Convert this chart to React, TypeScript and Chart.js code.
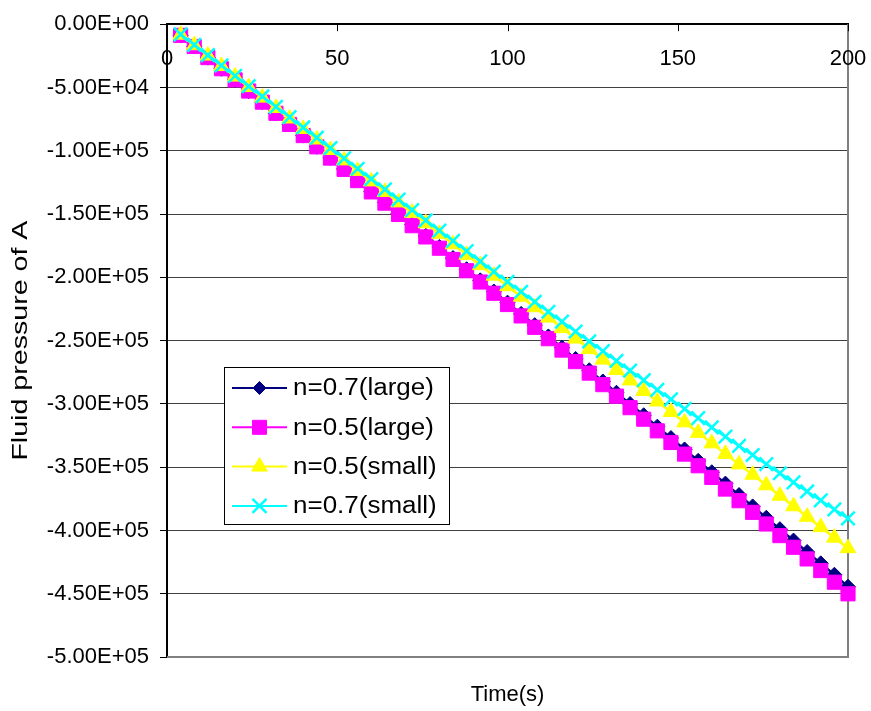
import React, { useEffect, useRef } from "react";
import { Chart, registerables } from "chart.js";

Chart.register(...registerables);

const times = [
  4, 8, 12, 16, 20, 24, 28, 32, 36, 40, 44, 48, 52, 56, 60, 64, 68, 72, 76, 80, 84, 88, 92, 96, 100,
  104, 108, 112, 116, 120, 124, 128, 132, 136, 140, 144, 148, 152, 156, 160, 164, 168, 172, 176, 180,
  184, 188, 192, 196, 200,
];

const n07Large = [
  -8800, -17600, -26400, -35200, -44000, -52800, -61600, -70400, -79200, -88000, -96800, -105600,
  -114400, -123200, -132000, -140800, -149600, -158400, -167200, -176000, -184800, -193600, -202400,
  -211200, -220000, -228900, -237800, -246700, -255600, -264500, -273400, -282300, -291200, -300100,
  -309000, -318000, -327000, -336000, -345000, -354000, -363000, -372000, -381000, -390000, -399000,
  -408000, -417000, -426000, -435000, -444500,
];

const n05Large = [
  -8800, -17600, -26400, -35200, -44000, -52800, -61600, -70400, -79200, -88000, -96900, -105800,
  -114700, -123600, -132500, -141400, -150300, -159200, -168100, -177000, -185900, -194800, -203700,
  -212600, -221500, -230500, -239500, -248500, -257500, -266600, -275700, -284800, -293900, -303000,
  -312100, -321300, -330500, -339700, -348900, -358100, -367300, -376500, -385700, -394900, -404100,
  -413300, -422500, -431700, -440900, -450100,
];

const n05Small = [
  -8300, -16600, -24800, -33100, -41400, -49700, -58000, -66200, -74500, -82800, -91100, -99400,
  -107600, -115900, -124200, -132500, -140800, -149000, -157300, -165600, -173900, -182200, -190400,
  -198700, -207000, -215300, -223600, -231800, -240100, -248400, -256700, -265000, -273200, -281500,
  -289800, -298100, -306400, -314600, -322900, -331200, -339500, -347800, -356000, -364300, -372600,
  -380900, -389200, -397400, -405700, -414000,
];

const n07Small = [
  -8100, -16300, -24500, -32600, -40800, -49000, -57100, -65300, -73400, -81600, -89700, -97900,
  -106000, -114200, -122300, -130500, -138600, -146800, -154900, -163100, -171200, -179300, -187400,
  -195500, -203500, -211400, -219300, -227200, -235000, -242800, -250600, -258300, -266000, -273700,
  -281300, -288900, -296400, -303900, -311300, -318600, -325900, -333200, -340400, -347600, -354800,
  -362000, -369200, -376300, -383400, -390500,
];

const seriesLabels = ["n=0.7(large)", "n=0.5(large)", "n=0.5(small)", "n=0.7(small)"];
const seriesColors = ["#000080", "#FF00FF", "#FFFF00", "#00FFFF"];
const seriesMarkers = ["rectRot", "rect", "triangle", "crossRot"];

const xTickValues = [0, 50, 100, 150, 200];
const xMin = 0;
const xMax = 200;
const yMin = -500000;
const yMax = 0;
const yStep = 50000;
const xTitle = "Time(s)";
const yTitle = "Fluid pressure of A";

const FONT = '"Liberation Sans", Arial, Helvetica, sans-serif';

function sci(v: number): string {
  if (v === 0) return "0.00E+00";
  const s = v.toExponential(2);
  const [m, e] = s.split("e");
  const sign = e[0] === "-" ? "-" : "+";
  const d = e.replace(/^[+-]/, "").padStart(2, "0");
  return m + "E" + sign + d;
}

function drawMarker(ctx: CanvasRenderingContext2D, kind: string, x: number, y: number, color: string) {
  ctx.save();
  ctx.fillStyle = color;
  ctx.strokeStyle = color;
  ctx.lineWidth = 1;
  ctx.beginPath();
  if (kind === "rectRot") {
    const r = 6.5;
    ctx.moveTo(x - r, y);
    ctx.lineTo(x, y - r);
    ctx.lineTo(x + r, y);
    ctx.lineTo(x, y + r);
    ctx.closePath();
    ctx.fill();
    ctx.stroke();
  } else if (kind === "rect") {
    const h = 7;
    ctx.rect(x - h, y - h, 2 * h, 2 * h);
    ctx.fill();
    ctx.stroke();
  } else if (kind === "triangle") {
    const r = 9;
    ctx.moveTo(x, y - r);
    ctx.lineTo(x + 0.866 * r, y + 0.5 * r);
    ctx.lineTo(x - 0.866 * r, y + 0.5 * r);
    ctx.closePath();
    ctx.fill();
    ctx.stroke();
  } else {
    const h = 7;
    ctx.lineWidth = 2.5;
    ctx.moveTo(x - h, y - h);
    ctx.lineTo(x + h, y + h);
    ctx.moveTo(x + h, y - h);
    ctx.lineTo(x - h, y + h);
    ctx.stroke();
  }
  ctx.restore();
}

const decorPlugin = {
  id: "decor",
  beforeDatasetsDraw(chart: any) {
    const { ctx, chartArea } = chart;
    const { left, top, right, bottom } = chartArea;
    ctx.save();
    ctx.strokeStyle = "#808080";
    ctx.lineWidth = 2;
    ctx.beginPath();
    ctx.moveTo(left, bottom);
    ctx.lineTo(right, bottom);
    ctx.lineTo(right, top);
    ctx.stroke();
    const xs = chart.scales.x;
    ctx.strokeStyle = "#000";
    ctx.lineWidth = 1;
    ctx.fillStyle = "#000";
    ctx.font = `22px ${FONT}`;
    ctx.textAlign = "center";
    ctx.textBaseline = "alphabetic";
    xTickValues.forEach((t) => {
      const px = Math.round(xs.getPixelForValue(t)) + 0.5;
      ctx.beginPath();
      ctx.moveTo(px, top);
      ctx.lineTo(px, top + 7);
      ctx.stroke();
      ctx.fillText(String(t), xs.getPixelForValue(t), top + 41);
    });
    ctx.restore();
  },
  afterDraw(chart: any) {
    const { ctx, chartArea } = chart;
    const { left, right, top, bottom } = chartArea;
    ctx.save();
    ctx.fillStyle = "#000";
    ctx.font = `22px ${FONT}`;
    ctx.textAlign = "center";
    ctx.textBaseline = "alphabetic";
    ctx.fillText(xTitle, (left + right) / 2, 701);
    ctx.save();
    ctx.translate(27, (top + bottom) / 2);
    ctx.rotate(-Math.PI / 2);
    ctx.scale(1.3, 1);
    ctx.fillText(yTitle, 0, 0);
    ctx.restore();

    const bx = 224.5, by = 367.5, bw = 225, bh = 157;
    ctx.fillStyle = "#fff";
    ctx.fillRect(bx, by, bw, bh);
    ctx.strokeStyle = "#000";
    ctx.lineWidth = 1;
    ctx.strokeRect(bx, by, bw, bh);
    seriesLabels.forEach((lab, i) => {
      const cy = 388 + i * 39.3;
      ctx.strokeStyle = seriesColors[i];
      ctx.lineWidth = 2;
      ctx.beginPath();
      ctx.moveTo(232, cy);
      ctx.lineTo(287, cy);
      ctx.stroke();
      drawMarker(ctx, seriesMarkers[i], 259.5, cy, seriesColors[i]);
      ctx.save();
      ctx.fillStyle = "#000";
      ctx.font = `23px ${FONT}`;
      ctx.textAlign = "left";
      ctx.textBaseline = "middle";
      ctx.translate(293, cy + 1);
      ctx.scale(1.13, 1);
      ctx.fillText(lab, 0, 0);
      ctx.restore();
    });
    ctx.restore();
  },
};

export default function App() {
  const canvasRef = useRef<HTMLCanvasElement | null>(null);

  useEffect(() => {
    const canvas = canvasRef.current;
    if (!canvas) return;
    const series = [n07Large, n05Large, n05Small, n07Small];
    const radii = [7.5, 10, 9, 9.5];
    const borders = [1, 1, 1, 2.5];
    const orders = [3, 2, 1, 0];
    const chart = new Chart(canvas, {
      type: "line",
      data: {
        datasets: series.map((vals, i) => ({
          label: seriesLabels[i],
          data: times.map((t, j) => ({ x: t, y: vals[j] })),
          borderColor: seriesColors[i],
          backgroundColor: seriesColors[i],
          pointBackgroundColor: seriesColors[i],
          pointBorderColor: seriesColors[i],
          pointStyle: seriesMarkers[i] as any,
          pointRadius: radii[i],
          pointBorderWidth: borders[i],
          borderWidth: 2.5,
          tension: 0,
          fill: false,
          clip: false as any,
          order: orders[i],
        })),
      },
      options: {
        animation: false,
        responsive: false,
        devicePixelRatio: 1,
        layout: { padding: { left: 0, top: 0, right: 23, bottom: 54 } },
        plugins: {
          legend: { display: false },
          tooltip: { enabled: false },
        },
        events: [],
        scales: {
          x: {
            type: "linear",
            position: "top",
            min: xMin,
            max: xMax,
            ticks: { display: false, stepSize: 50 },
            grid: { display: false },
            border: { display: true, color: "#000", width: 2 },
            afterFit: (s: any) => {
              s.height = 20;
            },
          },
          y: {
            type: "linear",
            position: "left",
            min: yMin,
            max: yMax,
            ticks: {
              stepSize: yStep,
              padding: 11,
              color: "#000",
              font: { family: FONT, size: 22 },
              callback: (v: any) => sci(Number(v)),
            },
            grid: { color: "#404040", lineWidth: 1, tickLength: 7, tickColor: "#000" },
            border: { display: true, color: "#000", width: 2 },
            afterFit: (s: any) => {
              s.width = 167;
            },
          },
        },
      },
      plugins: [decorPlugin],
    });
    return () => chart.destroy();
  }, []);

  return (
    <div style={{ position: "absolute", left: 0, top: 0, width: 871, height: 711, background: "#fff" }}>
      <canvas ref={canvasRef} width={871} height={711} style={{ display: "block" }} />
    </div>
  );
}
